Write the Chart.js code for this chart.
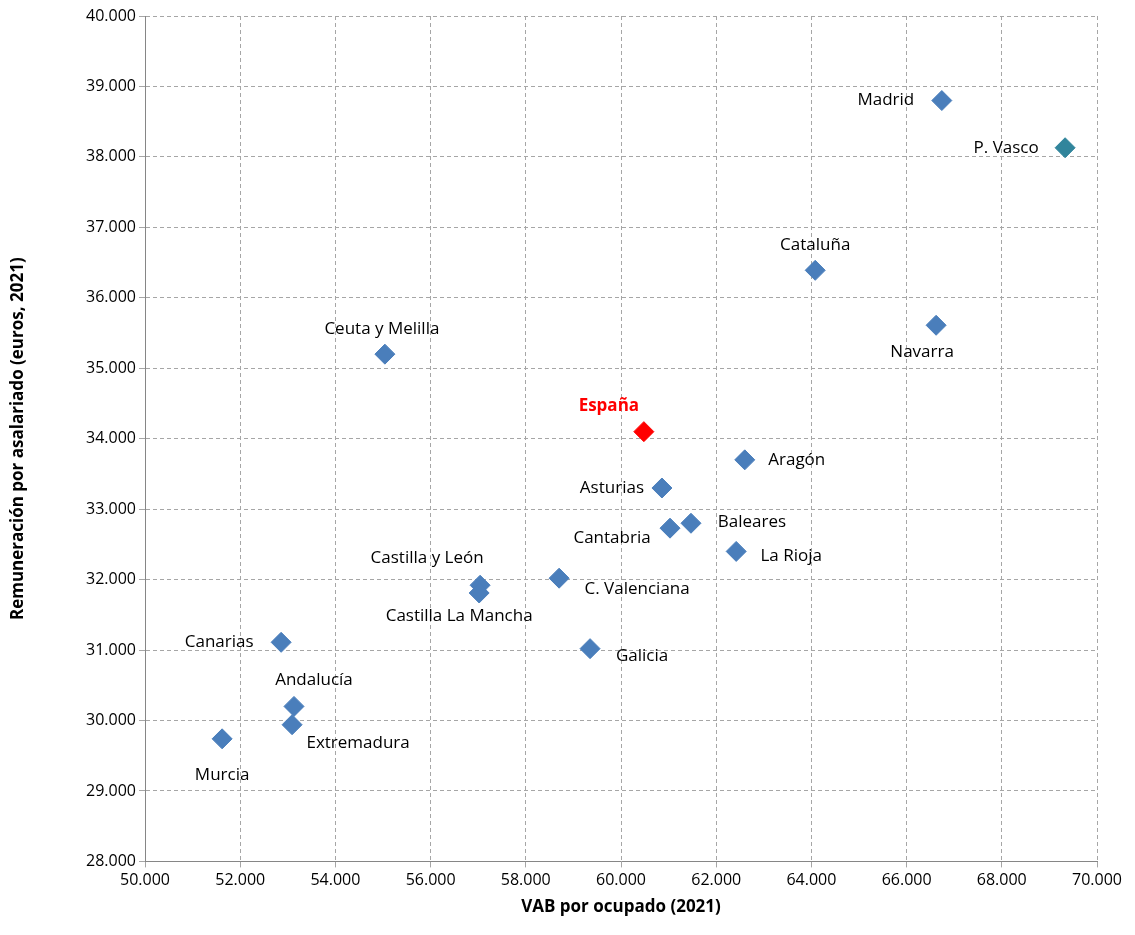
<!DOCTYPE html>
<html>
<head>
<meta charset="utf-8">
<script src="https://cdn.jsdelivr.net/npm/chart.js@4"></script>
<style>
  body { margin: 0; background: #fff; }
  #wrap { width: 1135px; height: 935px; }
</style>
</head>
<body>
<div id="wrap"><canvas id="chart"></canvas></div>
<script>
const regions = ['Madrid', 'P. Vasco', 'Cataluña', 'Navarra', 'Ceuta y Melilla', 'España', 'Aragón', 'Asturias',
  'Baleares', 'Cantabria', 'La Rioja', 'C. Valenciana', 'Castilla y León', 'Castilla La Mancha', 'Galicia',
  'Canarias', 'Andalucía', 'Extremadura', 'Murcia'];
const vabOcupado = [66740, 69330, 64080, 66620, 55040, 60480, 62600, 60860, 61470, 61030, 62420, 58700,
  57040, 57020, 59350, 52860, 53130, 53090, 51620];
const remuneracion = [38800, 38130, 36390, 35610, 35200, 34100, 33700, 33300, 32800, 32730, 32400, 32020,
  31920, 31810, 31020, 31110, 30200, 29940, 29740];

// label offsets in px (dx, dy) relative to each marker
const labelOffsets = [[-56, 0], [-59, 0], [0, -25], [-14, 27], [-3, -25], [-35, -25], [52, 0], [-50, 0],
  [61, -1], [-58, 10], [55, 5], [78, 11], [-53, -27], [-20, 23], [52, 8], [-62, 0], [20, -26], [66, 18], [0, 36]];

const colors = regions.map(r => r === 'España' ? '#ff0000' : r === 'P. Vasco' ? '#31859c' : '#4a7ebb');
const fmt = v => v.toLocaleString('de-DE');

const labelPlugin = {
  id: 'labels',
  afterDatasetsDraw(chart) {
    const ctx = chart.ctx;
    const meta = chart.getDatasetMeta(0);
    ctx.save();
    ctx.textAlign = 'center';
    ctx.textBaseline = 'middle';
    meta.data.forEach((pt, i) => {
      const esp = regions[i] === 'España';
      ctx.font = (esp ? 'bold ' : '') + '17px "Open Sans", sans-serif';
      ctx.fillStyle = esp ? '#ff0000' : '#000';
      ctx.fillText(regions[i], pt.x + labelOffsets[i][0], pt.y + labelOffsets[i][1]);
    });
    ctx.restore();
  }
};

new Chart(document.getElementById('chart'), {
  type: 'scatter',
  data: {
    datasets: [{
      data: vabOcupado.map((x, i) => ({ x: x, y: remuneracion[i] })),
      pointStyle: 'rectRot',
      pointRadius: 10,
      pointHoverRadius: 10,
      backgroundColor: colors,
      borderColor: colors,
      borderWidth: 1
    }]
  },
  options: {
    responsive: true,
    maintainAspectRatio: false,
    animation: false,
    layout: { padding: { top: 16, right: 38, left: 4, bottom: 14 } },
    plugins: { legend: { display: false }, tooltip: { enabled: false } },
    scales: {
      x: {
        min: 50000, max: 70000,
        ticks: { stepSize: 2000, callback: v => fmt(v), color: '#000', font: { size: 16, family: 'Open Sans' } },
        grid: { color: '#a6a6a6', tickLength: 6 },
        border: { dash: [4, 3], color: '#868686' },
        title: { display: true, text: 'VAB por ocupado (2021)', color: '#000', font: { size: 17, weight: 'bold', family: 'Open Sans' } }
      },
      y: {
        min: 28000, max: 40000,
        afterFit(scale) { scale.width = 141; },
        ticks: { stepSize: 1000, callback: v => fmt(v), color: '#000', font: { size: 16, family: 'Open Sans' } },
        grid: { color: '#a6a6a6', tickLength: 6 },
        border: { dash: [4, 3], color: '#868686' },
        title: { display: true, text: 'Remuneración por asalariado (euros, 2021)', color: '#000', font: { size: 17, weight: 'bold', family: 'Open Sans' } }
      }
    }
  },
  plugins: [labelPlugin]
});
</script>
</body>
</html>
